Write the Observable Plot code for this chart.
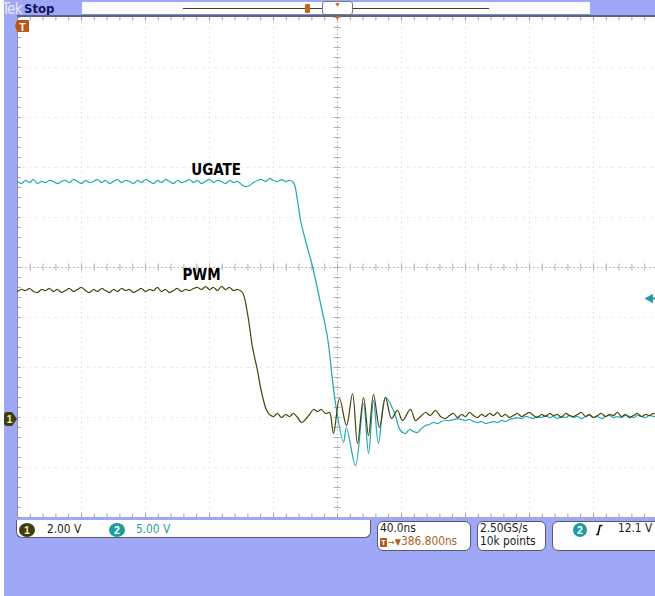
<!DOCTYPE html>
<html><head><meta charset="utf-8">
<script src="https://cdn.jsdelivr.net/npm/d3@7"></script>
<script src="https://cdn.jsdelivr.net/npm/@observablehq/plot@0.6"></script>
<style>
html,body{margin:0;padding:0;background:#fff;width:655px;height:596px;overflow:hidden;}
body{position:relative;font-family:"Liberation Sans",Arial,sans-serif;}
.abs{position:absolute;}
#bg{left:4px;top:0;width:651px;height:596px;background:#9ea8f6;}
#plotwrap{left:17px;top:17px;width:640px;height:500px;}
.box{background:#fff;border:1px solid #5a5a6a;border-radius:6px;box-sizing:border-box;}
.t{font-family:"DejaVu Sans Condensed","DejaVu Sans",sans-serif;font-stretch:condensed;font-size:11.8px;color:#1a1a1a;white-space:nowrap;line-height:1;}
</style></head>
<body>
<div id="bg" class="abs"></div>
<div class="abs" style="left:2px;top:0px;font-size:15px;color:#e6e8ff;letter-spacing:-0.6px;font-family:'DejaVu Sans Condensed','DejaVu Sans',sans-serif;">Tek</div>
<div class="abs" style="left:24px;top:1px;font-size:13px;color:#12125a;font-family:'DejaVu Sans Condensed','DejaVu Sans',sans-serif;font-weight:bold;">Stop</div>
<div class="abs" style="left:82px;top:2px;width:508px;height:12px;background:#fbfcff;border-bottom:1px solid #8a8fb0;"></div>
<div class="abs" style="left:183px;top:8px;width:306px;height:1.4px;background:#4c3c1c;"></div>
<div class="abs" style="left:305px;top:4px;width:5px;height:9px;background:#c2661e;border-radius:1px;"></div>
<div class="abs" style="left:322px;top:1px;width:31px;height:14px;background:#fff;border:1px solid #7a7a8a;border-radius:3px;box-sizing:border-box;"></div>
<div class="abs" style="left:334px;top:1px;font-size:7px;color:#c2661e;">▼</div>
<div class="abs" style="left:17px;top:15px;width:640px;height:2px;background:#5d6488;"></div>
<div id="plotwrap" class="abs"></div>
<svg class="abs" style="left:4px;top:0px" width="30" height="600" id="markers">
  <path d="M13,20 L24,20 Q25,20 25,21 L25,31 Q25,32 24,32 L13,32 L11,26 Z" fill="#b8561c"/>
  <text x="18.5" y="30.5" font-size="10.5" font-weight="bold" fill="#fff" text-anchor="middle" font-family="Liberation Sans">T</text>
  <path id="g1" d="M3,0 L8,0 L13,7 L8,14 L3,14 Q0,14 0,11 L0,3 Q0,0 3,0 Z" fill="#3f3f12"/>
  <text id="g1t" x="5.5" y="11" font-size="10" font-weight="bold" fill="#f3efb0" text-anchor="middle" font-family="Liberation Sans">1</text>
</svg>
<div class="abs" style="left:16px;top:520px;width:355px;height:2px;background:#3d3d4d;"></div>
<div class="abs box" style="left:16px;top:520px;width:355px;height:18px;border-top:none;border-radius:0 0 6px 6px;"></div>
<svg class="abs" style="left:16px;top:521px" width="130" height="16">
  <ellipse cx="11" cy="9" rx="8" ry="7" fill="#3d3d10"/>
  <text x="11" y="13" font-size="10.5" font-weight="bold" fill="#f3efb0" text-anchor="middle" font-family="Liberation Sans">1</text>
  <ellipse cx="101" cy="9" rx="8" ry="7" fill="#1f9c9e"/>
  <text x="101" y="13" font-size="10.5" font-weight="bold" fill="#fff" text-anchor="middle" font-family="Liberation Sans">2</text>
</svg>
<div class="abs t" style="left:47px;top:524px;">2.00 V</div>
<div class="abs t" style="left:136px;top:524px;color:#1f9c9e;">5.00 V</div>
<div class="abs box" style="left:377px;top:521px;width:94px;height:30px;"></div>
<div class="abs t" style="left:380px;top:523px;">40.0ns</div>
<div class="abs" style="left:380px;top:538px;width:7px;height:9px;background:#b8561c;border-radius:1px;color:#fff;font-size:8px;font-weight:bold;text-align:center;line-height:9px;">T</div>
<div class="abs t" style="left:388px;top:536px;color:#a8621c;"><span style="font-size:9px">→▼</span>386.800ns</div>
<div class="abs box" style="left:477px;top:521px;width:69px;height:30px;"></div>
<div class="abs t" style="left:480px;top:523px;">2.50GS/s</div>
<div class="abs t" style="left:480px;top:536px;">10k points</div>
<div class="abs box" style="left:552px;top:521px;width:110px;height:30px;"></div>
<svg class="abs" style="left:570px;top:522px" width="40" height="18">
  <circle cx="10" cy="8" r="7" fill="#1f9c9e"/>
  <text x="10" y="12" font-size="10.5" font-weight="bold" fill="#fff" text-anchor="middle" font-family="Liberation Sans">2</text>
  <path d="M26,12.5 L28,12.5 L30,3.5 L32.5,3.5" fill="none" stroke="#111" stroke-width="1.6"/>
</svg>
<div class="abs t" style="left:618px;top:523px;">12.1 V</div>
<script>
// ---- scope settings ----
const nsPerDiv = 40;
const ch1VoltsPerDiv = 2;
const ch2VoltsPerDiv = 5;
const groundDiv = -3.04;          // both channels' ground reference, in divisions from centre
const triggerLevel = 12.1;        // V, channel 2

// ---- Channel 1: PWM (time in ns, volts) ----
const pwmTime = [-200,-197.5,-195,-192.5,-190,-187.5,-185,-182.5,-180,-177.5,-175,-172.5,-170,-167.5,-165,-162.5,-160,-157.5,-155,-152.5,-150,-147.5,-145,-142.5,-140,-137.5,-135,-132.5,-130,-127.5,-125,-122.5,-120,-117.5,-115,-112.5,-110,-107.5,-105,-102.5,-100,-97.5,-95,-92.5,-90,-87.5,-85,-82.5,-80,-77.5,-75,-72.5,-70,-67.5,-65,-62.5,
 -59.4,-56.25,-53.1,-50,-48.1,-45,-43.1,
 -42.5,-40,-37.5,-35,-32.5,-30,-27.5,-25,-22.5,-20,-17.5,-15,-12.5,-10,-7.5,-5,
 -2.5,1.25,5.6,9.4,12.5,16.25,19.4,22.5,26.25,30,33.75,37.5,40.6,45.6,48.75,51.9,55,58,61.25,64.4,67.5,
 70,72.5,75,77.5,80,82.5,85,87.5,90,92.5,95,97.5,100,102.5,105,107.5,110,112.5,115,117.5,120,122.5,125,127.5,130,132.5,135,137.5,140,142.5,145,147.5,150,152.5,155,157.5,160,162.5,165,167.5,170,172.5,175,177.5,180,182.5,185,187.5,190,192.5,195,197.5,200];
const pwmVolts = [5.12,5.20,5.16,5.24,5.12,5.08,5.20,5.16,5.24,5.12,5.20,5.08,5.16,5.24,5.12,5.20,5.28,5.16,5.08,5.20,5.12,5.24,5.16,5.08,5.20,5.12,5.24,5.16,5.20,5.08,5.16,5.24,5.12,5.20,5.16,5.28,5.12,5.20,5.08,5.16,5.24,5.12,5.20,5.16,5.24,5.28,5.20,5.32,5.20,5.28,5.16,5.32,5.20,5.28,5.16,5.20,
 5.08,4.24,2.88,1.96,1.28,0.48,0.24,
 0.20,0.12,0.24,0.08,0.20,0.12,0.24,0.08,-0.12,0.00,0.20,0.40,0.32,0.40,0.24,0.28,
 -0.56,0.84,-0.24,1.04,-0.96,0.88,-0.64,1.00,-0.32,0.88,0.04,0.36,-0.04,0.40,-0.04,0.12,0.28,0.16,0.36,0.12,0.04,
 0.16,0.24,0.08,0.20,0.12,0.28,0.16,0.08,0.20,0.12,0.24,0.16,0.28,0.12,0.20,0.08,0.16,0.24,0.12,0.20,0.28,0.16,0.08,0.20,0.12,0.24,0.16,0.20,0.08,0.24,0.16,0.12,0.20,0.28,0.12,0.20,0.08,0.16,0.24,0.12,0.20,0.16,0.28,0.12,0.20,0.08,0.16,0.24,0.12,0.20,0.16,0.24,0.12];

// ---- Channel 2: UGATE (time in ns, volts) ----
const ugateTime = [-200,-197.5,-195,-192.5,-190,-187.5,-185,-182.5,-180,-177.5,-175,-172.5,-170,-167.5,-165,-162.5,-160,-157.5,-155,-152.5,-150,-147.5,-145,-142.5,-140,-137.5,-135,-132.5,-130,-127.5,-125,-122.5,-120,-117.5,-115,-112.5,-110,-107.5,-105,-102.5,-100,-97.5,-95,-92.5,-90,-87.5,-85,-82.5,-80,-77.5,-75,-72.5,-70,-67.5,-65,-62.5,-60,-57.5,-55,-52.5,-50,-47.5,-45,-42.5,-40,-37.5,-35,-32.5,-30,-27.5,
 -25,-23.1,-20,-15.6,-10.6,-6.25,-3.1,-1.25,3.75,5.6,11.25,16.25,19.4,22.5,25.6,30,35,39.4,
 42.5,45,47.5,50,52.5,55,57.5,60,62.5,65,67.5,
 70,72.5,75,77.5,80,82.5,85,87.5,90,92.5,95,97.5,100,102.5,105,107.5,110,112.5,115,117.5,120,122.5,125,127.5,130,132.5,135,137.5,140,142.5,145,147.5,150,152.5,155,157.5,160,162.5,165,167.5,170,172.5,175,177.5,180,182.5,185,187.5,190,192.5,195,197.5,200];
const ugateVolts = [23.8,23.6,23.9,23.7,24.0,23.6,23.8,23.7,23.9,23.8,23.6,23.8,23.9,23.7,24.0,23.8,23.6,23.9,23.7,23.8,24.0,23.7,23.9,23.6,23.8,24.0,23.7,23.9,23.8,23.6,23.9,23.7,24.0,23.8,23.6,23.9,23.7,24.0,23.8,23.6,23.9,23.7,23.8,24.0,23.7,23.9,23.6,23.8,24.0,23.7,23.9,23.8,23.6,23.9,23.7,23.8,23.5,23.3,23.4,23.7,23.9,24.0,23.8,24.1,23.9,23.8,24.0,23.8,23.9,23.7,
 21.9,19.9,17.9,15.3,11.6,8.2,3.9,1.6,-2.3,-0.8,-4.6,1.6,-3.4,1.9,-2.4,2.2,0.9,-1.1,
 -1.4,-1.0,-1.2,-1.3,-0.9,-0.6,-0.5,-0.3,-0.4,-0.2,-0.1,
 -0.1,0.0,0.1,0.0,-0.1,0.0,-0.2,-0.3,-0.2,-0.4,-0.3,-0.2,-0.3,-0.1,-0.2,0.0,0.1,0.2,0.1,0.3,0.2,0.1,0.3,0.2,0.4,0.2,0.3,0.1,0.3,0.2,0.4,0.2,0.3,0.1,0.3,0.4,0.2,0.3,0.1,0.3,0.4,0.2,0.3,0.2,0.4,0.3,0.2,0.4,0.3,0.2,0.4,0.3,0.3];

// ---- annotations ----
const labelText = ["UGATE", "PWM"];
const labelTime = [-75.9, -85];
const labelDiv = [1.86, -0.24];

const pwm = pwmTime.map((t, i) => ({t, v: pwmVolts[i]}));
const ugate = ugateTime.map((t, i) => ({t, v: ugateVolts[i]}));
const labels = labelText.map((s, i) => ({s, t: labelTime[i], y: labelDiv[i]}));

const xMajor = d3.range(-200, 200.01, nsPerDiv);
const yMajor = d3.range(-5, 5.01, 1);
const xMinor = d3.range(-200, 200.01, nsPerDiv / 5);
const yMinor = d3.range(-5, 5.01, 0.2);
const gridGray = "#cdcdcd";

const plot = Plot.plot({
  width: 640, height: 500, margin: 0,
  x: {domain: [-200, 200], axis: null},
  y: {domain: [-5, 5], axis: null},
  style: {background: "#fff", overflow: "visible"},
  marks: [
    Plot.ruleX(xMajor.filter(v => v !== 0 && v !== -200), {stroke: gridGray, strokeDasharray: "1,4", strokeWidth: 1}),
    Plot.ruleY(yMajor.filter(v => v !== 0 && v !== 5 && v !== -5), {stroke: gridGray, strokeDasharray: "1,5.4", strokeWidth: 1}),
    Plot.ruleX([0], {stroke: "#bdbdbd", strokeDasharray: "2,2", strokeWidth: 1}),
    Plot.ruleY([0], {stroke: "#bdbdbd", strokeDasharray: "2,2", strokeWidth: 1}),
    // minor ticks on centre lines
    Plot.ruleY(yMinor, {x1: -2.2, x2: 2.2, stroke: "#b0b0b0", strokeWidth: 1}),
    Plot.ruleX(xMinor, {y1: -0.07, y2: 0.07, stroke: "#b0b0b0", strokeWidth: 1}),
    // minor ticks on graticule edges
    Plot.ruleX(xMinor, {y1: 5, y2: 4.93, stroke: "#a0a0a0", strokeWidth: 1}),
    Plot.ruleX(xMinor, {y1: -5, y2: -4.93, stroke: "#a0a0a0", strokeWidth: 1}),
    Plot.ruleY(yMinor, {x1: -200, x2: -197.8, stroke: "#a0a0a0", strokeWidth: 1}),
    Plot.ruleX([-200], {stroke: "#8a8fb0", strokeWidth: 1}),
    // traces
    Plot.line(ugate, {x: "t", y: d => d.v / ch2VoltsPerDiv + groundDiv, stroke: "#23a8b6", strokeWidth: 1.25, curve: "catmull-rom"}),
    Plot.line(pwm, {x: "t", y: d => d.v / ch1VoltsPerDiv + groundDiv, stroke: "#48480e", strokeWidth: 1.25, curve: "catmull-rom"}),
    // trigger level arrow (ch2)
    Plot.ruleY([triggerLevel], {x1: 196, x2: 200, y: d => d / ch2VoltsPerDiv + groundDiv, stroke: "#1f9c9e", strokeWidth: 2}),
    Plot.dot([triggerLevel], {x: 196, y: d => d / ch2VoltsPerDiv + groundDiv, symbol: "triangle", rotate: -90, r: 3.6, fill: "#1f9c9e", stroke: "none", dx: -1}),
    // trigger position marker
    Plot.text([0], {x: d => d, y: 5, text: () => "▼", fill: "#c2661e", fontSize: 7, lineAnchor: "top", dy: -2}),
    Plot.text(labels, {x: "t", y: "y", text: "s", fontSize: 15, fontWeight: "bold", fill: "#000", textAnchor: "middle", lineAnchor: "bottom", fontFamily: "'Liberation Sans Narrow','DejaVu Sans Condensed','Liberation Sans',sans-serif"})
  ]
});
document.getElementById("plotwrap").appendChild(plot);

// ground marker for channel 1, placed from the y scale
const yPix = plot.scale("y").apply(groundDiv) + 17;
document.getElementById("g1").setAttribute("transform", `translate(0,${yPix - 7})`);
document.getElementById("g1t").setAttribute("transform", `translate(0,${yPix - 7})`);
</script>
</body></html>
